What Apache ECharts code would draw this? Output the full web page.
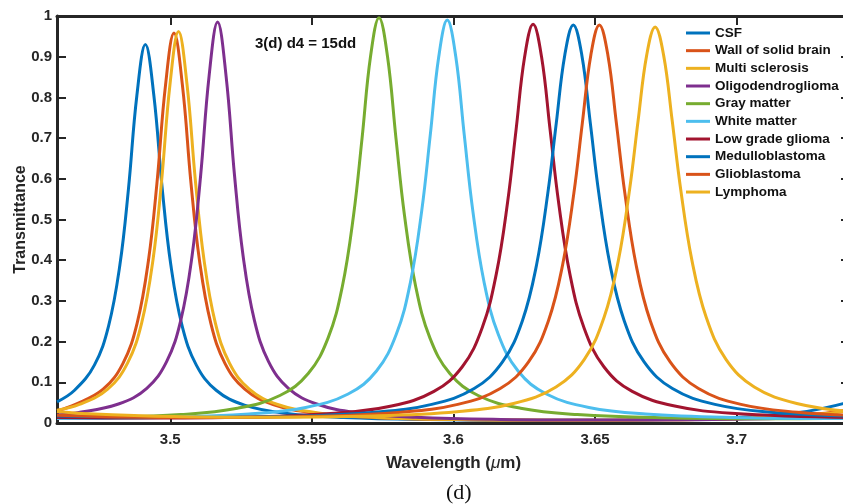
<!DOCTYPE html>
<html>
<head>
<meta charset="utf-8">
<script src="https://cdn.jsdelivr.net/npm/echarts@6/dist/echarts.min.js"></script>
<style>
html,body{margin:0;padding:0;background:#fff;overflow:hidden;width:843px;height:504px;}
#chart{width:851px;height:504px;}
</style>
</head>
<body>
<div id="chart"></div>
<script>
// ---- data ----
var seriesNames = ['CSF','Wall of solid brain','Multi sclerosis','Oligodendroglioma','Gray matter','White matter','Low grade glioma','Medulloblastoma','Glioblastoma','Lymphoma'];
var xTicks = [3.5, 3.55, 3.6, 3.65, 3.7];
var yTicks = [0, 0.1, 0.2, 0.3, 0.4, 0.5, 0.6, 0.7, 0.8, 0.9, 1];

var csf = [[3.46,0.052],[3.4662,0.0805],[3.4732,0.1423],[3.4782,0.238],[3.4822,0.388],[3.4852,0.573],[3.4882,0.8047],[3.4912,0.93],[3.4942,0.8047],[3.4972,0.573],[3.5002,0.388],[3.5042,0.238],[3.5092,0.1423],[3.5162,0.0805],[3.5262,0.044],[3.5412,0.0233],[3.5612,0.0133],[3.5912,0.0083],[3.6312,0.0067],[3.6612,0.0075],[3.6912,0.011],[3.7212,0.025],[3.74,0.052]];
var wall = [[3.46,0.03],[3.4663,0.0453],[3.4763,0.083],[3.4833,0.1466],[3.4883,0.2452],[3.4923,0.3997],[3.4953,0.5902],[3.4983,0.829],[3.5013,0.958],[3.5043,0.829],[3.5073,0.5902],[3.5103,0.3997],[3.5143,0.2452],[3.5193,0.1466],[3.5263,0.083],[3.5363,0.0453],[3.5513,0.024],[3.5713,0.0137],[3.6013,0.0085],[3.6413,0.0069],[3.6713,0.0078],[3.7013,0.0113],[3.7313,0.024],[3.74,0.0336]];
var multiSclerosis = [[3.46,0.0316],[3.4679,0.0455],[3.4779,0.0833],[3.4849,0.1472],[3.4899,0.2462],[3.4939,0.4013],[3.4969,0.5927],[3.4999,0.8324],[3.5029,0.962],[3.5059,0.8324],[3.5089,0.5927],[3.5119,0.4013],[3.5159,0.2462],[3.5209,0.1472],[3.5279,0.0833],[3.5379,0.0455],[3.5529,0.0241],[3.5729,0.0138],[3.6029,0.0085],[3.6429,0.0069],[3.6729,0.0078],[3.7029,0.0113],[3.7329,0.0241],[3.74,0.0315]];
var oligo = [[3.46,0.0199],[3.4667,0.0247],[3.4817,0.0466],[3.4917,0.0853],[3.4987,0.1507],[3.5037,0.2521],[3.5077,0.4109],[3.5107,0.6069],[3.5137,0.8523],[3.5167,0.985],[3.5197,0.8523],[3.5227,0.6069],[3.5257,0.4109],[3.5297,0.2521],[3.5347,0.1507],[3.5417,0.0853],[3.5517,0.0466],[3.5667,0.0247],[3.5867,0.0141],[3.6167,0.0087],[3.6567,0.0071],[3.6867,0.008],[3.7167,0.0116],[3.74,0.0193]];
var grayMatter = [[3.46,0.0115],[3.4737,0.0129],[3.5037,0.0208],[3.5237,0.0362],[3.5387,0.0675],[3.5487,0.1215],[3.5557,0.2085],[3.5607,0.3337],[3.5647,0.5098],[3.5677,0.6988],[3.5707,0.9003],[3.5737,0.996],[3.5767,0.9003],[3.5797,0.6988],[3.5827,0.5098],[3.5867,0.3337],[3.5917,0.2085],[3.5987,0.1215],[3.6087,0.0675],[3.6237,0.0362],[3.6437,0.0208],[3.6737,0.0129],[3.7137,0.0105],[3.74,0.0115]];
var whiteMatter = [[3.46,0.0111],[3.4978,0.0137],[3.5278,0.022],[3.5478,0.0382],[3.5628,0.0713],[3.5728,0.1277],[3.5798,0.218],[3.5848,0.346],[3.5888,0.5225],[3.5918,0.7078],[3.5948,0.9003],[3.5978,0.99],[3.6008,0.9003],[3.6038,0.7078],[3.6068,0.5225],[3.6108,0.346],[3.6158,0.218],[3.6228,0.1277],[3.6328,0.0713],[3.6478,0.0382],[3.6678,0.022],[3.6978,0.0137],[3.74,0.0111]];
var lowGrade = [[3.46,0.0135],[3.4881,0.0122],[3.5281,0.015],[3.5581,0.0241],[3.5781,0.0417],[3.5931,0.0776],[3.6031,0.1382],[3.6101,0.2335],[3.6151,0.3658],[3.6191,0.5423],[3.6221,0.7208],[3.6251,0.8992],[3.6281,0.98],[3.6311,0.8992],[3.6341,0.7208],[3.6371,0.5423],[3.6411,0.3658],[3.6461,0.2335],[3.6531,0.1382],[3.6631,0.0776],[3.6781,0.0417],[3.6981,0.0241],[3.74,0.0135]];
var medullo = [[3.46,0.0169],[3.5023,0.0134],[3.5423,0.0164],[3.5723,0.0264],[3.5923,0.0458],[3.6073,0.0847],[3.6173,0.1499],[3.6243,0.2509],[3.6293,0.3876],[3.6333,0.5647],[3.6363,0.7374],[3.6393,0.9043],[3.6423,0.978],[3.6453,0.9043],[3.6483,0.7374],[3.6513,0.5647],[3.6553,0.3876],[3.6603,0.2509],[3.6673,0.1499],[3.6773,0.0847],[3.6923,0.0458],[3.7123,0.0264],[3.74,0.0169]];
var glio = [[3.46,0.019],[3.4815,0.015],[3.5115,0.0134],[3.5515,0.0164],[3.5815,0.0264],[3.6015,0.0458],[3.6165,0.0847],[3.6265,0.1499],[3.6335,0.2509],[3.6385,0.3876],[3.6425,0.5647],[3.6455,0.7374],[3.6485,0.9043],[3.6515,0.978],[3.6545,0.9043],[3.6575,0.7374],[3.6605,0.5647],[3.6645,0.3876],[3.6695,0.2509],[3.6765,0.1499],[3.6865,0.0847],[3.7015,0.0458],[3.7215,0.0264],[3.74,0.019]];
var lymphoma = [[3.46,0.0285],[3.4712,0.0229],[3.5012,0.0158],[3.5312,0.0141],[3.5712,0.0173],[3.6012,0.0278],[3.6212,0.048],[3.6362,0.0886],[3.6462,0.1565],[3.6532,0.2602],[3.6582,0.3989],[3.6622,0.575],[3.6652,0.7437],[3.6682,0.9033],[3.6712,0.973],[3.6742,0.9033],[3.6772,0.7437],[3.6802,0.575],[3.6842,0.3989],[3.6892,0.2602],[3.6962,0.1565],[3.7062,0.0886],[3.7212,0.048],[3.74,0.0285]];

var allData = [csf, wall, multiSclerosis, oligo, grayMatter, whiteMatter, lowGrade, medullo, glio, lymphoma];
var colors = ['#0072BD','#D95319','#EDB120','#7E2F8E','#77AC30','#4DBEEE','#A2142F','#0072BD','#D95319','#EDB120'];

var chart = echarts.init(document.getElementById('chart'), null, {renderer:'canvas'});
var axisColor = '#262626';
var labelFont = {fontFamily:'Liberation Sans, Arial, sans-serif', fontWeight:'bold', fontSize:15, color:axisColor};

var series = allData.map(function(d, i){
  return {
    name: seriesNames[i], type:'line', data:d, xAxisIndex:0, yAxisIndex:0,
    symbol:'none', showSymbol:false, smooth:0.4, clip:true,
    lineStyle:{width:3, color:colors[i]}, itemStyle:{color:colors[i]}
  };
});

var option = {
  animation:false,
  backgroundColor:'#fff',
  color: colors,
  title:[
    {text:'3(d) d4 = 15dd', left:255, top:36, padding:0, textStyle:{fontFamily:'Liberation Sans, Arial, sans-serif', fontWeight:'bold', fontSize:15, color:'#111'}},
    {text:'(d)', left:446, top:482, padding:0, textStyle:{fontFamily:'Liberation Serif, Times New Roman, serif', fontWeight:'normal', fontSize:22, color:'#111'}}
  ],
  legend:{
    data: seriesNames.map(function(n){ return {name:n, icon:'rect'}; }),
    orient:'vertical', left:686, top:26, padding:0,
    itemWidth:24, itemHeight:3, itemGap:3.67,
    textStyle:{fontFamily:'Liberation Sans, Arial, sans-serif', fontWeight:'bold', fontSize:13.5, lineHeight:14, height:14, color:'#111'},
    selectedMode:false
  },
  grid:{left:57, top:16, width:793, height:407, containLabel:false, outerBoundsMode:'none'},
  xAxis:[{
    type:'value', min:3.46, max:3.74, position:'bottom',
    name:'{a|Wavelength (}{b|μ}{a|m)}', nameLocation:'middle', nameGap:32, nameMoveOverlap:false,
    nameTextStyle:{rich:{
      a:{fontFamily:'Liberation Sans, Arial, sans-serif', fontWeight:'bold', fontSize:17, color:axisColor},
      b:{fontFamily:'Liberation Sans, Arial, sans-serif', fontStyle:'italic', fontWeight:'normal', fontSize:17, color:axisColor}
    }},
    axisLine:{show:true, onZero:false, lineStyle:{color:axisColor, width:3}},
    axisTick:{show:true, inside:true, length:9, customValues:xTicks, lineStyle:{color:axisColor, width:2}},
    axisLabel:Object.assign({show:true, margin:9, customValues:xTicks, formatter:function(v){return String(v);}}, labelFont),
    splitLine:{show:false}
  },{
    type:'value', min:3.46, max:3.74, position:'top',
    axisLine:{show:true, onZero:false, lineStyle:{color:axisColor, width:3}},
    axisTick:{show:true, inside:true, length:9, customValues:xTicks, lineStyle:{color:axisColor, width:2}},
    axisLabel:{show:false}, splitLine:{show:false}
  }],
  yAxis:[{
    type:'value', min:0, max:1, interval:0.1, position:'left',
    name:'Transmittance', nameLocation:'middle', nameGap:28, nameRotate:90, nameMoveOverlap:false,
    nameTextStyle:{fontFamily:'Liberation Sans, Arial, sans-serif', fontWeight:'bold', fontSize:16, color:axisColor},
    axisLine:{show:true, onZero:false, lineStyle:{color:axisColor, width:3}},
    axisTick:{show:true, inside:true, length:9, customValues:yTicks, lineStyle:{color:axisColor, width:2}},
    axisLabel:Object.assign({show:true, margin:5, customValues:yTicks, formatter:function(v){return String(Math.round(v*10)/10);}}, labelFont),
    splitLine:{show:false}
  },{
    type:'value', min:0, max:1, interval:0.1, position:'right',
    axisLine:{show:true, onZero:false, lineStyle:{color:axisColor, width:3}},
    axisTick:{show:true, inside:true, length:9, customValues:yTicks, lineStyle:{color:axisColor, width:2}},
    axisLabel:{show:false}, splitLine:{show:false}
  }],
  series: series
};
chart.setOption(option);
</script>
</body>
</html>
